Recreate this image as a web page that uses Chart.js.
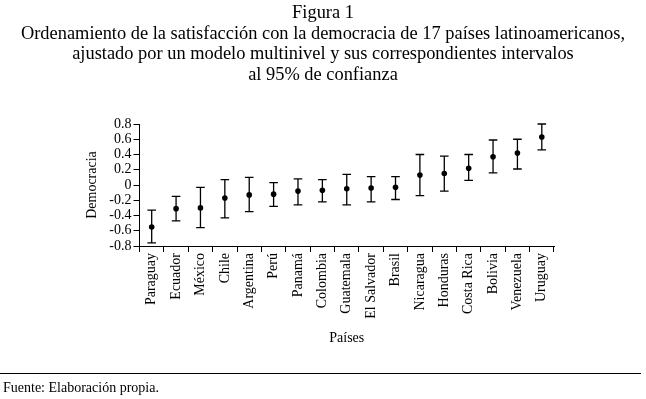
<!DOCTYPE html>
<html>
<head>
<meta charset="utf-8">
<script src="https://cdn.jsdelivr.net/npm/chart.js@4/dist/chart.umd.min.js"></script>
<style>
  html, body { margin: 0; padding: 0; background: #fff; }
  #wrap { position: relative; width: 646px; height: 399px; overflow: hidden; font-family: "Liberation Serif", "DejaVu Serif", serif; color: #000; }
  #chart { position: absolute; left: 0; top: 0; }
  #title { position: absolute; left: 0; top: 2px; width: 646px; text-align: center; font-size: 18.4px; line-height: 20.6px; }
  #rule { position: absolute; left: 0; top: 373px; width: 641px; height: 1px; background: #000; }
  #source { position: absolute; left: 3px; top: 380px; font-size: 14px; line-height: 16px; }
</style>
</head>
<body>
<div id="wrap">
  <canvas id="chart" width="646" height="399"></canvas>
  <div id="title">Figura 1<br>Ordenamiento de la satisfacción con la democracia de 17 países latinoamericanos,<br>ajustado por un modelo multinivel y sus correspondientes intervalos<br>al 95% de confianza</div>
  <div id="rule"></div>
  <div id="source">Fuente: Elaboración propia.</div>
</div>
<script>
const countries = ['Paraguay', 'Ecuador', 'México', 'Chile', 'Argentina', 'Perú', 'Panamá', 'Colombia', 'Guatemala',
  'El Salvador', 'Brasil', 'Nicaragua', 'Honduras', 'Costa Rica', 'Bolivia', 'Venezuela', 'Uruguay'];
const estimates = [-0.55, -0.31, -0.30, -0.17, -0.13, -0.12, -0.08, -0.07, -0.05, -0.04, -0.03, 0.13, 0.15, 0.22, 0.37, 0.42, 0.63];
const lowerBounds = [-0.76, -0.47, -0.56, -0.43, -0.35, -0.28, -0.26, -0.22, -0.26, -0.22, -0.19, -0.14, -0.08, 0.06, 0.16, 0.21, 0.46];
const upperBounds = [-0.33, -0.15, -0.03, 0.07, 0.10, 0.03, 0.08, 0.07, 0.14, 0.11, 0.11, 0.40, 0.38, 0.40, 0.59, 0.60, 0.80];
const yTicks = [-0.8, -0.6, -0.4, -0.2, 0, 0.2, 0.4, 0.6, 0.8];

const serif = '"Liberation Serif", "DejaVu Serif", serif';

// vertical whiskers with caps, positioned through the chart scales
const errorBars = {
  id: 'errorBars',
  afterDatasetsDraw(chart) {
    const { ctx, scales: { x, y } } = chart;
    ctx.save();
    ctx.strokeStyle = '#000';
    ctx.lineWidth = 1.3;
    countries.forEach((_, i) => {
      const px = x.getPixelForValue(i);
      const top = y.getPixelForValue(upperBounds[i]);
      const bottom = y.getPixelForValue(lowerBounds[i]);
      ctx.beginPath();
      ctx.moveTo(px, top);
      ctx.lineTo(px, bottom);
      ctx.moveTo(px - 4.3, top);
      ctx.lineTo(px + 4.3, top);
      ctx.moveTo(px - 4.3, bottom);
      ctx.lineTo(px + 4.3, bottom);
      ctx.stroke();
    });
    ctx.restore();
  },
};

new Chart(document.getElementById('chart'), {
  type: 'line',
  data: {
    labels: countries,
    datasets: [
      {
        data: estimates,
        showLine: false,
        pointRadius: 2.8,
        pointBackgroundColor: '#000',
        pointBorderColor: '#000',
        pointBorderWidth: 0,
      },
    ],
  },
  options: {
    responsive: false,
    animation: false,
    devicePixelRatio: 1,
    layout: { padding: { left: 80, right: 92, top: 124, bottom: 48 } },
    plugins: {
      legend: { display: false },
      tooltip: { enabled: false },
    },
    scales: {
      x: {
        offset: true,
        grid: { display: true, drawOnChartArea: false, offset: true, tickLength: 6, color: '#000', lineWidth: 1 },
        border: { display: true, color: '#000', width: 1 },
        ticks: {
          autoSkip: false,
          maxRotation: 90,
          minRotation: 90,
          padding: 1,
          color: '#000',
          font: { family: serif, size: 14 },
        },
        title: { display: true, text: 'Países', color: '#000', font: { family: serif, size: 14 } },
        afterFit(scale) { scale.height = 105; },
      },
      y: {
        min: -0.8,
        max: 0.8,
        afterBuildTicks(scale) { scale.ticks = yTicks.map((v) => ({ value: v })); },
        grid: { display: true, drawOnChartArea: false, tickLength: 6, color: '#000', lineWidth: 1 },
        border: { display: true, color: '#000', width: 1 },
        ticks: {
          autoSkip: false,
          padding: 2,
          color: '#000',
          font: { family: serif, size: 14 },
          callback: (v) => String(Math.round(v * 10) / 10),
        },
        title: { display: true, text: 'Democracia', color: '#000', font: { family: serif, size: 14 } },
        afterFit(scale) { scale.width = 59.5; },
      },
    },
  },
  plugins: [errorBars],
});
</script>
</body>
</html>
